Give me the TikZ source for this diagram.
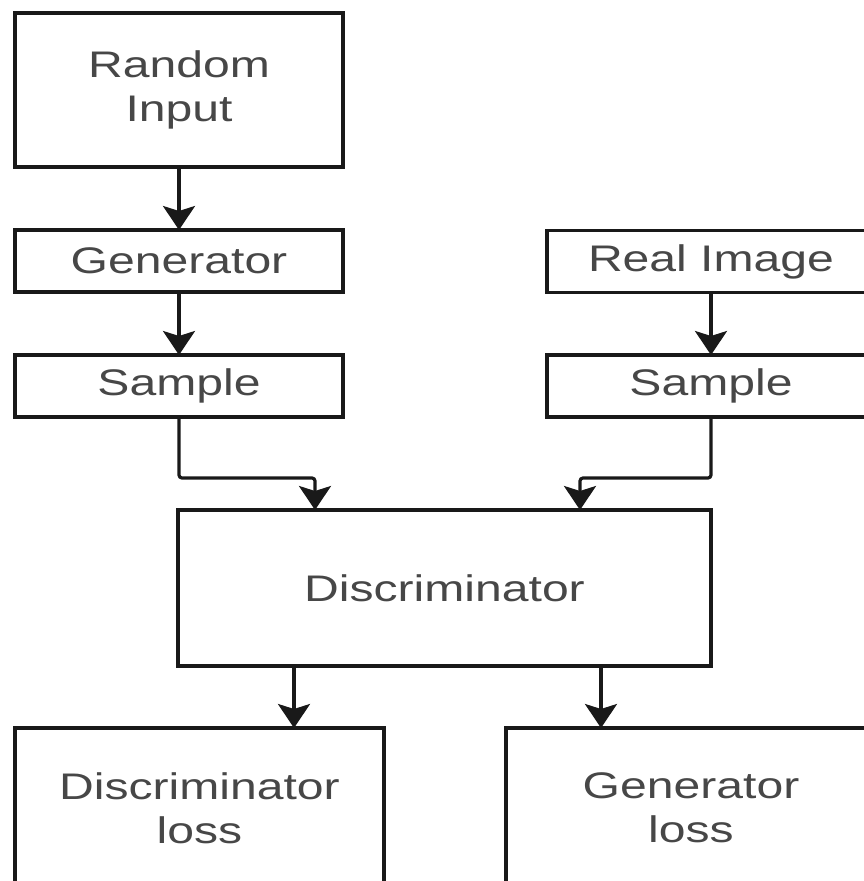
\documentclass[tikz,border=0pt]{standalone}
\usepackage{fontspec}
\usepackage{graphicx}
\setmainfont{Liberation Sans}
\usetikzlibrary{arrows.meta}
% wide lettering used in every box
\newcommand{\wtxt}[1]{\scalebox{1.3}[1]{#1}}
\begin{document}
\begin{tikzpicture}[x=1pt,y=-1pt,
  box/.style={draw=black!90, line width=3.2pt, fill=white, inner sep=0pt, outer sep=0pt,
    minimum width=328pt, text=black!72, align=center,
    font=\fontsize{37}{44}\selectfont},
  arr/.style={draw=black!90, line width=3.2pt, rounded corners=3pt,
    -{Stealth[width=32pt,length=24pt,inset=5pt]}}]
\useasboundingbox (0,0) rectangle (864,881);
\clip (0,0) rectangle (864,881);

% left column
\node[box, minimum height=154pt] (rin) at (179,90) {\wtxt{Random}\\\wtxt{Input}};
\node[box, minimum height=62pt] (gen) at (179,261) {\wtxt{Generator}};
\node[box, minimum height=62pt] (sl) at (179,386) {\wtxt{Sample}};

% right column
\node[box, minimum height=62pt] (real) at (711,261.5) {\wtxt{Real Image}};
\node[box, minimum height=62pt] (sr) at (711,386) {\wtxt{Sample}};

% discriminator
\node[box, minimum width=533pt, minimum height=156pt] (disc) at (444.5,588) {\wtxt{Discriminator}};

% losses
\node[box, minimum width=369pt, minimum height=160pt] (dloss) at (199.5,808) {\wtxt{Discriminator}\\\wtxt{loss}};
\node[box, minimum width=370pt, minimum height=160pt] (gloss) at (691,808) {\wtxt{Generator}\\\wtxt{loss}};

% connectors
\draw[arr] (rin) -- (gen);
\draw[arr] (gen) -- (sl);
\draw[arr] (real) -- (sr);

\coordinate (jl) at (315,478);
\coordinate (jr) at (580,478);
\draw[arr] (sl.south) |- (jl) -- (jl |- disc.north);
\draw[arr] (sr.south) |- (jr) -- (jr |- disc.north);

\coordinate (o1) at (294,0);
\coordinate (o2) at (601,0);
\draw[arr] (disc.south -| o1) -- (dloss.north -| o1);
\draw[arr] (disc.south -| o2) -- (gloss.north -| o2);
\end{tikzpicture}
\end{document}
